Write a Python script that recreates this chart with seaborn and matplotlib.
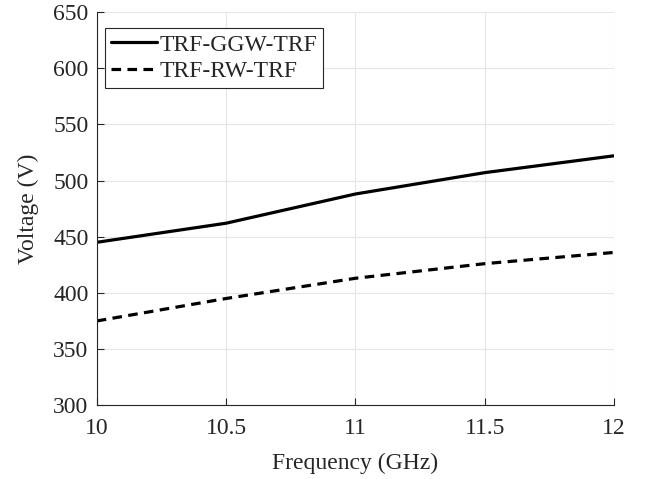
import matplotlib
matplotlib.use("Agg")
import matplotlib.pyplot as plt
import seaborn as sns
import pandas as pd

freq = [10, 10.5, 11, 11.5, 12]
ggw = [445, 462, 488, 507, 522]
rw = [375, 395, 413, 426, 436]
labels = ["TRF-GGW-TRF", "TRF-RW-TRF"]
xticks = [10, 10.5, 11, 11.5, 12]
xticklabels = ["10", "10.5", "11", "11.5", "12"]
yticks = [300, 350, 400, 450, 500, 550, 600, 650]

df = pd.DataFrame({
    "Frequency": freq + freq,
    "Voltage": ggw + rw,
    "Series": [labels[0]] * len(freq) + [labels[1]] * len(freq),
})

sns.set_theme(style="white")
plt.rcParams["font.family"] = ["Liberation Serif", "DejaVu Serif"]

fig = plt.figure(figsize=(6.45, 4.79), dpi=100)
ax = fig.add_axes([0.150, 0.154, 0.802, 0.821])

sns.lineplot(data=df, x="Frequency", y="Voltage", style="Series",
             dashes={labels[0]: "", labels[1]: (3, 2)},
             color="black", linewidth=2.3, ax=ax, legend=True)

ax.set_xlim(10, 12)
ax.set_ylim(300, 650)
ax.set_xticks(xticks)
ax.set_xticklabels(xticklabels)
ax.set_yticks(yticks)
ax.grid(True, color="#e6e6e6", linewidth=0.8)
for s in ["top", "right"]:
    ax.spines[s].set_visible(False)
for s in ["left", "bottom"]:
    ax.spines[s].set_color("#262626")
    ax.spines[s].set_linewidth(0.8)
ax.tick_params(axis="both", direction="in", length=5, width=0.8,
               colors="#262626", labelsize=17, left=True, bottom=True)
ax.tick_params(axis="x", pad=9)
ax.tick_params(axis="y", pad=6)
for lab in ax.get_xticklabels() + ax.get_yticklabels():
    lab.set_color("#262626")
ax.set_xlabel("Frequency (GHz)", fontsize=17, color="#262626", labelpad=10)
ax.set_ylabel("Voltage (V)", fontsize=17, color="#262626", labelpad=10)

handles, _ = ax.get_legend_handles_labels()
leg = ax.legend(handles=handles, labels=labels, loc="upper left",
                bbox_to_anchor=(0.0155, 0.959), fontsize=17, frameon=True,
                fancybox=False, edgecolor="#262626", framealpha=1,
                handlelength=1.95, handletextpad=0.1, borderpad=0.25,
                labelspacing=0.22, borderaxespad=0.0)
leg.get_frame().set_linewidth(0.8)

fig.savefig("out.png", dpi=100)
